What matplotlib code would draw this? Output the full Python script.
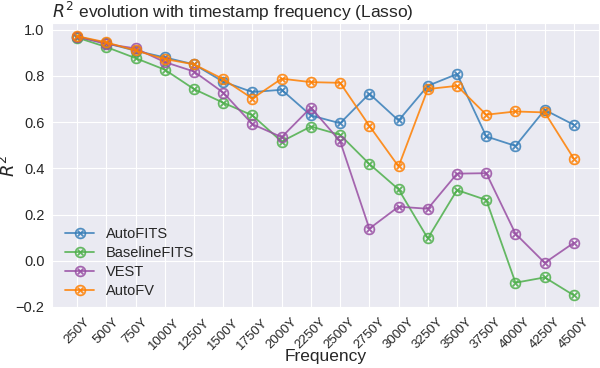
import matplotlib
matplotlib.use("Agg")
import matplotlib.pyplot as plt
import seaborn as sns

FREQS = ["250Y", "500Y", "750Y", "1000Y", "1250Y", "1500Y", "1750Y", "2000Y", "2250Y",
         "2500Y", "2750Y", "3000Y", "3250Y", "3500Y", "3750Y", "4000Y", "4250Y", "4500Y"]

AUTOFITS = [0.970, 0.942, 0.909, 0.880, 0.850, 0.775, 0.730, 0.740, 0.629,
            0.595, 0.723, 0.607, 0.757, 0.808, 0.538, 0.497, 0.653, 0.588]
BASELINE = [0.966, 0.925, 0.877, 0.827, 0.743, 0.684, 0.629, 0.516, 0.581,
            0.545, 0.419, 0.309, 0.097, 0.306, 0.263, -0.095, -0.072, -0.150]
VEST = [0.970, 0.938, 0.919, 0.860, 0.819, 0.728, 0.591, 0.535, 0.663,
        0.517, 0.139, 0.234, 0.225, 0.377, 0.379, 0.117, -0.009, 0.078]
AUTOFV = [0.972, 0.945, 0.910, 0.873, 0.850, 0.786, 0.702, 0.788, 0.773,
          0.770, 0.584, 0.408, 0.743, 0.757, 0.632, 0.646, 0.642, 0.441]

SERIES = [("AutoFITS", AUTOFITS, "#377eb8"),
          ("BaselineFITS", BASELINE, "#4daf4a"),
          ("VEST", VEST, "#984ea3"),
          ("AutoFV", AUTOFV, "#ff7f00")]


def main():
    sns.set_style("darkgrid")
    plt.rcParams["font.family"] = ["Liberation Sans", "DejaVu Sans"]

    fig = plt.figure(figsize=(6, 3.68), dpi=100)
    ax = fig.add_axes([0.087, 0.162, 0.911, 0.775])

    x = list(range(len(FREQS)))
    for name, vals, color in SERIES:
        ax.plot(x, vals, color=color, alpha=0.85, lw=1.3, marker=r"$\otimes$",
                markersize=8, markeredgewidth=0.3, label=name)

    ax.set_xticks(x)
    ax.set_xticklabels(FREQS, rotation=45, fontsize=9.5)
    ax.tick_params(axis="both", pad=2)
    ax.tick_params(axis="y", labelsize=10.5)
    ax.set_xlabel("Frequency", fontsize=12.5)
    ax.xaxis.set_label_coords(0.5, -0.143)
    ax.set_ylabel("$R^2$", fontsize=13)
    ax.yaxis.set_label_coords(-0.06, 0.5)
    ax.set_title("$R^2$ evolution with timestamp frequency (Lasso)", loc="left",
                 fontsize=12.5, pad=4)
    ax.legend(loc="lower left", frameon=False, fontsize=10.5, bbox_to_anchor=(0.0, -0.01),
              labelspacing=0.35)

    fig.savefig("out.png", dpi=100)
    plt.close(fig)


if __name__ == "__main__":
    main()
